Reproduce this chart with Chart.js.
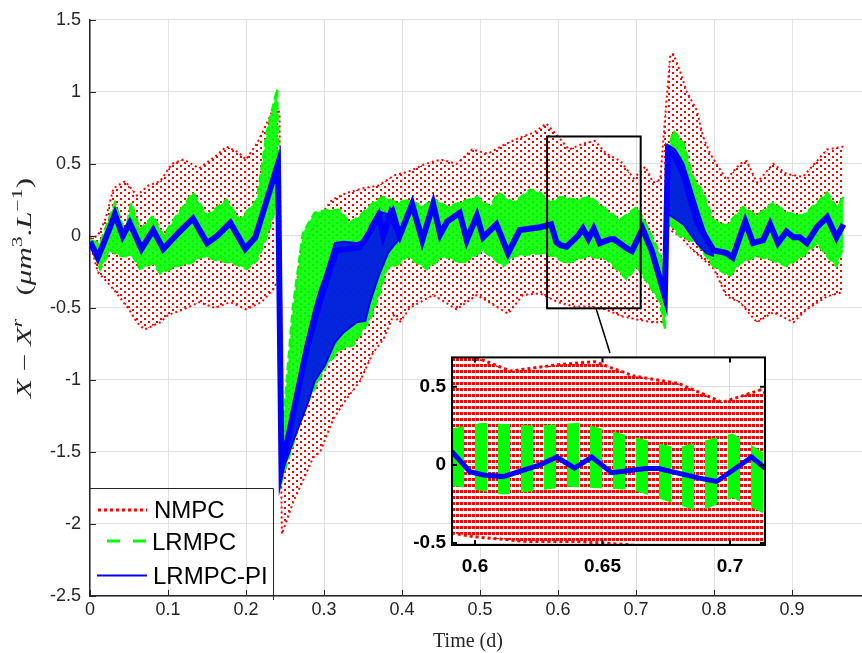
<!DOCTYPE html>
<html><head><meta charset="utf-8">
<script src="https://cdn.jsdelivr.net/npm/chart.js@4.4.0/dist/chart.umd.min.js"></script>
<style>
html,body{margin:0;padding:0;background:#fff;overflow:hidden;}
#wrap{position:relative;width:862px;height:653px;overflow:hidden;background:#fff;}
#main{position:absolute;left:0;top:0;}
#inset{position:absolute;left:400px;top:340px;}
</style></head><body>
<div id="wrap"><canvas id="main" width="880" height="653"></canvas><canvas id="inset" width="400" height="260"></canvas></div>
<script>
// ---------------- data ----------------
const xTicks = [0,0.1,0.2,0.3,0.4,0.5,0.6,0.7,0.8,0.9,1];
const yTicks = [1.5,1,0.5,0,-0.5,-1,-1.5,-2,-2.5];
const insetXTicks = [0.6,0.65,0.7];
const insetYTicks = [-0.5,0,0.5];
const seriesNames = ['NMPC','LRMPC','LRMPC-PI'];

// NMPC (red dotted) cloud: upper and lower edge
const redTopT = [0,0.01,0.02,0.03,0.045,0.06,0.075,0.09,0.105,0.12,0.14,0.16,0.175,0.19,0.2,0.215,0.23,0.238,0.243,0.2465,0.26,0.27,0.29,0.31,0.33,0.35,0.37,0.39,0.41,0.43,0.45,0.47,0.49,0.51,0.53,0.55,0.57,0.585,0.6,0.614,0.632,0.647,0.662,0.68,0.697,0.712,0.722,0.731,0.737,0.744,0.748,0.756,0.765,0.778,0.786,0.795,0.808,0.816,0.833,0.842,0.855,0.876,0.893,0.914,0.932,0.945,0.966];
const redTop  = [-0.02,0,0.12,0.33,0.38,0.28,0.35,0.38,0.5,0.53,0.47,0.55,0.62,0.58,0.53,0.65,0.82,0.92,0.85,-1.6,-0.6,-0.1,0.1,0.25,0.3,0.33,0.35,0.42,0.45,0.5,0.53,0.5,0.6,0.57,0.63,0.68,0.72,0.78,0.69,0.6,0.64,0.66,0.57,0.52,0.4,0.48,0.37,0.39,0.8,1.26,1.26,1.15,1.0,0.87,0.69,0.57,0.46,0.39,0.5,0.52,0.37,0.5,0.43,0.41,0.52,0.6,0.62];
const redBotT = [0,0.01,0.03,0.05,0.06,0.07,0.09,0.1,0.12,0.14,0.16,0.18,0.2,0.22,0.235,0.242,0.246,0.261,0.273,0.286,0.295,0.312,0.329,0.346,0.363,0.376,0.389,0.397,0.41,0.44,0.47,0.496,0.536,0.555,0.577,0.6,0.62,0.64,0.66,0.683,0.701,0.722,0.735,0.741,0.756,0.773,0.8,0.816,0.833,0.855,0.876,0.902,0.919,0.945,0.966];
const redBot  = [-0.05,-0.25,-0.37,-0.51,-0.6,-0.65,-0.6,-0.55,-0.51,-0.46,-0.5,-0.46,-0.51,-0.46,-0.37,-0.3,-2.07,-1.84,-1.7,-1.54,-1.5,-1.27,-1.13,-1.01,-0.81,-0.72,-0.55,-0.6,-0.5,-0.41,-0.51,-0.41,-0.54,-0.41,-0.4,-0.46,-0.49,-0.49,-0.51,-0.56,-0.58,-0.6,-0.6,0.05,0.0,-0.1,-0.23,-0.42,-0.46,-0.6,-0.53,-0.6,-0.51,-0.42,-0.39];

// LRMPC (green dashed) band: upper and lower edge
const greenTopT = [0,0.013,0.032,0.045,0.053,0.064,0.081,0.094,0.111,0.132,0.15,0.175,0.192,0.214,0.227,0.24,0.2445,0.26,0.273,0.288,0.304,0.32,0.333,0.346,0.363,0.376,0.393,0.41,0.427,0.44,0.458,0.474,0.496,0.513,0.523,0.543,0.564,0.577,0.59,0.603,0.624,0.641,0.662,0.679,0.701,0.714,0.726,0.737,0.741,0.748,0.761,0.773,0.786,0.799,0.816,0.837,0.855,0.876,0.893,0.914,0.936,0.945,0.957,0.966];
const greenTop  = [-0.03,-0.05,0.23,0.02,0.23,0.04,0.14,0,0.14,0.3,0.14,0.25,0.11,0.25,0.73,1.02,-1.5,-0.5,0.02,0.16,0.18,0.18,0.09,0.14,0.23,0.27,0.23,0.25,0.2,0.26,0.2,0.23,0.27,0.2,0.3,0.23,0.32,0.3,0.23,0.27,0.25,0.27,0.18,0.11,0.2,0.07,-0.07,-0.23,0.59,0.73,0.64,0.41,0.3,0.11,0.07,0.2,0.14,0.23,0.16,0.14,0.25,0.3,0.2,0.27];
const greenBotT = [0,0.013,0.026,0.038,0.055,0.064,0.081,0.09,0.111,0.128,0.145,0.163,0.184,0.201,0.214,0.227,0.24,0.2445,0.273,0.286,0.303,0.32,0.337,0.359,0.372,0.38,0.397,0.406,0.432,0.453,0.478,0.504,0.53,0.543,0.577,0.594,0.611,0.637,0.662,0.688,0.701,0.731,0.737,0.741,0.756,0.778,0.799,0.82,0.833,0.855,0.876,0.893,0.914,0.932,0.945,0.957,0.966];
const greenBot  = [-0.05,-0.23,-0.1,-0.14,-0.14,-0.23,-0.19,-0.26,-0.21,-0.19,-0.14,-0.17,-0.19,-0.23,-0.17,0,0.23,-1.72,-1.22,-1.08,-0.9,-0.79,-0.76,-0.58,-0.39,-0.23,-0.19,-0.14,-0.23,-0.14,-0.19,-0.1,-0.21,-0.14,-0.12,-0.14,-0.19,-0.14,-0.16,-0.3,-0.21,-0.46,-0.65,0.1,0.0,-0.05,-0.21,-0.28,-0.19,-0.14,-0.17,-0.21,-0.14,-0.05,-0.14,-0.21,-0.07];

// LRMPC-PI (blue solid): main trajectory
const blueT = [0,0.01,0.02,0.032,0.042,0.051,0.066,0.081,0.094,0.115,0.132,0.15,0.163,0.18,0.199,0.212,0.241,0.2455,0.278,0.295,0.316,0.346,0.359,0.37,0.376,0.385,0.397,0.413,0.426,0.44,0.449,0.458,0.474,0.483,0.496,0.504,0.521,0.536,0.551,0.577,0.5912,0.598,0.6033,0.611,0.6255,0.632,0.639,0.6458,0.6536,0.667,0.672,0.688,0.6948,0.7085,0.7137,0.72,0.728,0.737,0.741,0.75,0.761,0.778,0.799,0.816,0.824,0.84,0.85,0.863,0.872,0.882,0.893,0.902,0.91,0.919,0.932,0.945,0.957,0.966];
const blueV = [-0.04,-0.15,-0.02,0.15,0,0.09,-0.09,0.04,-0.09,0.03,0.12,-0.05,0,0.09,-0.09,-0.01,0.5,-1.62,-0.78,-0.45,-0.1,-0.08,0.03,0.14,0,0.15,0,0.22,-0.03,0.22,0.01,0.1,0.16,-0.03,0.14,-0.01,0.08,-0.12,0.04,0.06,0.08,-0.044,-0.065,-0.075,0,0.05,-0.02,0.05,-0.05,-0.023,-0.023,-0.085,-0.106,0.05,-0.02,-0.1,-0.25,-0.42,0.6,0.55,0.42,0.1,-0.1,-0.12,-0.15,0.1,-0.05,-0.03,0.08,-0.05,0.03,-0.01,-0.01,-0.05,0.06,0.13,-0.01,0.08];
// LRMPC-PI spread after the two disturbances
const blueSpreadAT  = [0.2455,0.265,0.278,0.288,0.295,0.301,0.314,0.325,0.342,0.353,0.359,0.37,0.382,0.389,0.397];
const blueSpreadAHi = [-1.6,-1.09,-0.72,-0.5,-0.37,-0.28,-0.05,-0.04,-0.05,-0.03,0.07,0.17,0.15,0.2,0.05];
const blueSpreadALo = [-1.65,-1.36,-1.18,-1.01,-0.95,-0.9,-0.74,-0.67,-0.6,-0.59,-0.46,-0.28,-0.12,-0.07,-0.02];
const blueSpreadBT  = [0.737,0.741,0.75,0.761,0.778,0.79,0.8];
const blueSpreadBHi = [-0.42,0.63,0.6,0.5,0.2,0.0,-0.08];
const blueSpreadBLo = [-0.46,0.15,0.12,0.08,-0.05,-0.12,-0.14];

// zoom box (data coordinates) and inset range
const zoomBoxX = [0.586,0.706];
const zoomBoxY = [-0.503,0.69];
const insetRangeX = [0.59098,0.71373];
const insetRangeY = [-0.5125,0.6875];

// ---------------- helpers ----------------
const pts = (T,V) => T.map((t,i)=>({x:t,y:V[i]}));
function pattern(w,h,draw){
  const c=document.createElement('canvas'); c.width=w; c.height=h;
  const g=c.getContext('2d'); draw(g); return g.createPattern(c,'repeat');
}
const redDots = pattern(8,6,g=>{g.fillStyle='#ff0000';g.fillRect(0,0,2,2);g.fillRect(4,3,2,2);});
const redDotsDense = pattern(4,6,g=>{g.fillStyle='#ff0000';g.fillRect(0,0,3,3);});
const greenBars = pattern(23,4,g=>{g.fillStyle='#00ff00';g.fillRect(6,0,12,4);});
const AX='#262626';

function line(T,V,o){return Object.assign({data:pts(T,V),pointRadius:0,borderWidth:1,fill:false,tension:0},o);}

function mainDatasets(){
  return [
    line(redTopT,redTop,{fill:1,backgroundColor:redDots,borderColor:'#ff0000',borderWidth:2,borderDash:[2,3],order:30}),
    line(redBotT,redBot,{borderColor:'#ff0000',borderWidth:2,borderDash:[2,3],order:30}),
    line(greenTopT,greenTop,{fill:3,backgroundColor:'rgba(0,255,0,0.9)',borderColor:'#00ff00',borderWidth:2.5,borderDash:[8,4],order:20}),
    line(greenBotT,greenBot,{borderColor:'#00ff00',borderWidth:2.5,borderDash:[8,4],order:20}),
    line(blueSpreadAT,blueSpreadAHi,{fill:5,backgroundColor:'rgba(0,0,255,0.85)',borderColor:'#0000ff',borderWidth:2,order:10}),
    line(blueSpreadAT,blueSpreadALo,{borderColor:'#0000ff',borderWidth:2,order:10}),
    line(blueSpreadBT,blueSpreadBHi,{fill:7,backgroundColor:'rgba(0,0,255,0.85)',borderColor:'#0000ff',borderWidth:2,order:10}),
    line(blueSpreadBT,blueSpreadBLo,{borderColor:'#0000ff',borderWidth:2,order:10}),
    line(blueT,blueV,{borderColor:'#0000ff',borderWidth:6,order:5})
  ];
}

function drawRich(ctx,parts,cx,cy,rot,len){
  ctx.save(); ctx.translate(cx,cy); ctx.rotate(rot);
  let w=0; parts.forEach(p=>{ctx.font=p.f; p.w=ctx.measureText(p.t).width; w+=p.w;});
  const s=len?len/w:1; ctx.scale(s,1);
  let x=-w/2; ctx.fillStyle=AX; ctx.textBaseline='alphabetic'; ctx.textAlign='left';
  parts.forEach(p=>{ctx.font=p.f; ctx.fillText(p.t,x,p.dy||0); x+=p.w;});
  ctx.restore();
}

const mainDecor = {
  id:'mainDecor',
  afterDraw(chart){
    const ctx=chart.ctx, a=chart.chartArea, xs=chart.scales.x, ys=chart.scales.y;
    ctx.save();
    // inward ticks
    ctx.strokeStyle=AX; ctx.lineWidth=1;
    ctx.beginPath();
    yTicks.forEach(v=>{const y=Math.round(ys.getPixelForValue(v))+0.5; ctx.moveTo(a.left,y); ctx.lineTo(a.left+6,y);});
    xTicks.forEach(v=>{const x=Math.round(xs.getPixelForValue(v))+0.5; ctx.moveTo(x,a.bottom); ctx.lineTo(x,a.bottom-6);});
    ctx.stroke();
    // zoom box and connector
    ctx.strokeStyle='#000'; ctx.lineWidth=2;
    const x0=xs.getPixelForValue(zoomBoxX[0]), x1=xs.getPixelForValue(zoomBoxX[1]);
    const y0=ys.getPixelForValue(zoomBoxY[1]), y1=ys.getPixelForValue(zoomBoxY[0]);
    ctx.strokeRect(x0,y0,x1-x0,y1-y0);
    ctx.lineWidth=1.5;
    ctx.beginPath(); ctx.moveTo(596,y1); ctx.lineTo(610,353); ctx.stroke();
    // legend
    ctx.strokeStyle=AX; ctx.lineWidth=1;
    ctx.beginPath(); ctx.moveTo(a.left,488.5); ctx.lineTo(273.5,488.5); ctx.lineTo(273.5,600); ctx.stroke();
    ctx.lineWidth=3; ctx.strokeStyle='#ff0000'; ctx.setLineDash([3,3]);
    ctx.beginPath(); ctx.moveTo(98,510); ctx.lineTo(147,510); ctx.stroke();
    ctx.strokeStyle='#00ff00'; ctx.setLineDash([13,13]);
    ctx.beginPath(); ctx.moveTo(107,541); ctx.lineTo(147,541); ctx.stroke();
    ctx.setLineDash([]); ctx.strokeStyle='#0000ff'; ctx.lineWidth=2;
    ctx.beginPath(); ctx.moveTo(97,575.5); ctx.lineTo(147,575.5); ctx.stroke();
    ctx.fillStyle='#000'; ctx.font='24px "Liberation Sans", Arial, sans-serif'; ctx.textBaseline='alphabetic'; ctx.textAlign='left';
    ctx.fillText(seriesNames[0],154,517.5);
    ctx.fillText(seriesNames[1],152,550);
    ctx.fillText(seriesNames[2],153,584);
    ctx.restore();
    // axis titles
    const it='italic 20px "Liberation Serif", serif', rm='20px "Liberation Serif", serif', sup='14px "Liberation Serif", serif', isup='italic 14px "Liberation Serif", serif';
    drawRich(ctx,[
      {t:'X',f:it},{t:' \u2212 ',f:rm},{t:'X',f:it},{t:'r',f:isup,dy:-9},{t:'   (',f:rm},
      {t:'\u03bcm',f:it},{t:'3',f:sup,dy:-9},{t:'.',f:rm},{t:'L',f:it},{t:'\u22121',f:sup,dy:-9},{t:')',f:rm}
    ],31,288,-Math.PI/2,220);
    drawRich(ctx,[{t:'Time (d)',f:rm}],468,647,0,0);
  }
};

new Chart(document.getElementById('main'),{
  type:'line',
  data:{datasets:mainDatasets()},
  options:{
    responsive:false, animation:false, events:[],
    layout:{padding:{top:15,right:10,left:0,bottom:0}},
    plugins:{legend:{display:false},tooltip:{enabled:false}},
    scales:{
      x:{type:'linear',min:0,max:1,afterFit(s){s.height=57;},
         afterBuildTicks(s){s.ticks=xTicks.map(v=>({value:v}));},
         ticks:{color:AX,font:{family:'"Liberation Sans", Arial, sans-serif',size:18},padding:3,maxRotation:0,autoSkip:false,callback:v=>String(Math.round(v*100)/100)},
         grid:{color:'#e0e0e0',lineWidth:1,drawTicks:false},
         border:{display:true,color:AX,width:1.5}},
      y:{type:'linear',min:-2.5,max:1.5,afterFit(s){s.width=90;},
         afterBuildTicks(s){s.ticks=yTicks.slice().reverse().map(v=>({value:v}));},
         ticks:{color:AX,font:{family:'"Liberation Sans", Arial, sans-serif',size:18},padding:9,autoSkip:false,callback:v=>String(Math.round(v*100)/100)},
         grid:{color:'#e0e0e0',lineWidth:1,drawTicks:false},
         border:{display:true,color:AX,width:1.5}}
    }
  },
  plugins:[mainDecor]
});

// ---------------- inset ----------------
const insetDecor = {
  id:'insetDecor',
  beforeDraw(chart){
    const a=chart.chartArea, ctx=chart.ctx;
    ctx.save(); ctx.fillStyle='#fff'; ctx.fillRect(a.left,a.top,a.right-a.left,a.bottom-a.top); ctx.restore();
  },
  afterDraw(chart){
    const a=chart.chartArea, ctx=chart.ctx, xs=chart.scales.x, ys=chart.scales.y;
    ctx.save(); ctx.strokeStyle='#000'; ctx.lineWidth=2;
    ctx.strokeRect(a.left,a.top,a.right-a.left,a.bottom-a.top);
    ctx.beginPath();
    insetXTicks.forEach(v=>{const x=xs.getPixelForValue(v); ctx.moveTo(x,a.bottom); ctx.lineTo(x,a.bottom-5); ctx.moveTo(x,a.top); ctx.lineTo(x,a.top+5);});
    insetYTicks.forEach(v=>{const y=ys.getPixelForValue(v); ctx.moveTo(a.left,y); ctx.lineTo(a.left+5,y); ctx.moveTo(a.right,y); ctx.lineTo(a.right-5,y);});
    ctx.stroke(); ctx.restore();
  }
};
new Chart(document.getElementById('inset'),{
  type:'line',
  data:{datasets:[
    line(redTopT,redTop,{fill:1,backgroundColor:redDotsDense,borderColor:'#ff0000',borderWidth:3,borderDash:[3,3],order:30}),
    line(redBotT,redBot,{borderColor:'#ff0000',borderWidth:3,borderDash:[3,3],order:30}),
    line(greenTopT,greenTop,{fill:3,backgroundColor:greenBars,borderWidth:0,order:20}),
    line(greenBotT,greenBot,{borderWidth:0,order:20}),
    line(blueT,blueV,{borderColor:'#0000ff',borderWidth:5,order:5})
  ]},
  options:{
    responsive:false, animation:false, events:[],
    layout:{padding:{top:13,right:35,left:0,bottom:0}},
    plugins:{legend:{display:false},tooltip:{enabled:false}},
    scales:{
      x:{type:'linear',min:insetRangeX[0],max:insetRangeX[1],afterFit(s){s.height=55;},
         afterBuildTicks(s){s.ticks=insetXTicks.map(v=>({value:v}));},
         ticks:{color:'#000',font:{family:'"Liberation Sans", Arial, sans-serif',size:19,weight:'bold'},padding:10,maxRotation:0,autoSkip:false,callback:v=>String(v)},
         grid:{color:'#dedede',drawTicks:false},border:{display:false}},
      y:{type:'linear',min:insetRangeY[0],max:insetRangeY[1],afterFit(s){s.width=52;},
         afterBuildTicks(s){s.ticks=insetYTicks.map(v=>({value:v}));},
         ticks:{color:'#000',font:{family:'"Liberation Sans", Arial, sans-serif',size:19,weight:'bold'},padding:6,autoSkip:false,callback:v=>String(v)},
         grid:{color:'#dedede',drawTicks:false},border:{display:false}}
    }
  },
  plugins:[insetDecor]
});
</script>
</body></html>
